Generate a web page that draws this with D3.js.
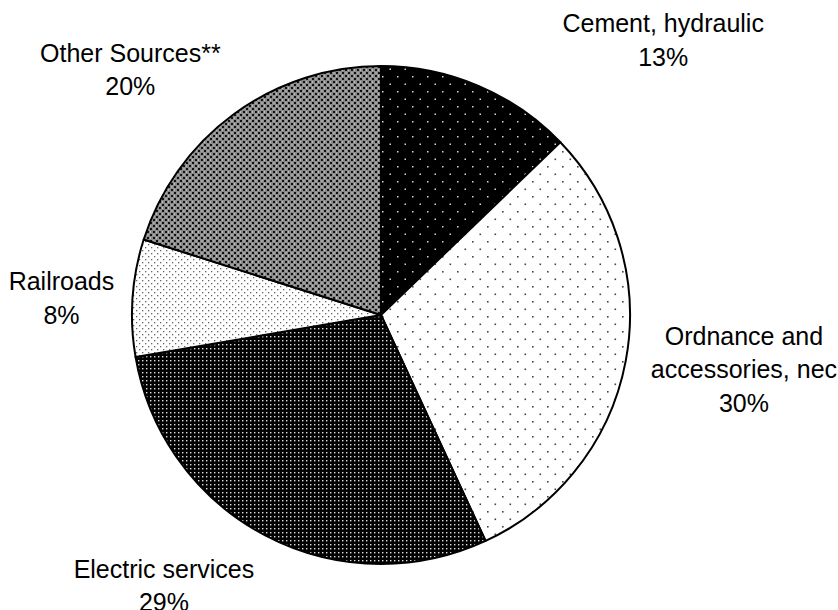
<html>
<head>
<script src="https://d3js.org/d3.v7.min.js"></script>
<style>
  body { margin: 0; background: #fff; }
  text { font-family: "Liberation Sans", Arial, sans-serif; }
</style>
</head>
<body>
<svg id="chart" width="838" height="610"></svg>
<script>
// data (share of total, clockwise from 12 o'clock)
const categories = ["Cement, hydraulic", "Ordnance and accessories, nec", "Electric services", "Railroads", "Other Sources**"];
const values = [12.8, 30.3, 29.2, 7.6, 20.1];
const pctLabels = ["13%", "30%", "29%", "8%", "20%"];
// how each category name is broken into lines in the chart
const nameLines = [["Cement, hydraulic"], ["Ordnance and", "accessories, nec"], ["Electric services"], ["Railroads"], ["Other Sources**"]];

const svg = d3.select("#chart");
const cx = 381, cy = 315, radius = 249;

// fill patterns
const defs = svg.append("defs");

function dotPattern(id, size, bg, dot, pts, r) {
  const p = defs.append("pattern").attr("id", id).attr("patternUnits", "userSpaceOnUse")
    .attr("width", size).attr("height", size);
  p.append("rect").attr("width", size).attr("height", size).attr("fill", bg);
  pts.forEach(q => p.append("rect").attr("x", q[0]).attr("y", q[1]).attr("width", r).attr("height", r).attr("fill", dot));
}
dotPattern("pCement", 15, "#000", "#d8d8d8", [[1, 1], [8.5, 8.5]], 1.5);
dotPattern("pOrd", 15, "#fff", "#444", [[1, 1], [8.5, 8.5]], 1.6);
dotPattern("pElec", 4, "#000", "#e0e0e0", [[1, 1]], 1.4);
dotPattern("pRail", 6, "#fff", "#666", [[1, 1], [4, 4]], 1.3);

// gray crosshatch for other sources
const po = defs.append("pattern").attr("id", "pOther").attr("patternUnits", "userSpaceOnUse")
  .attr("width", 6).attr("height", 6);
po.append("rect").attr("width", 6).attr("height", 6).attr("fill", "#8a8a8a");
po.append("rect").attr("x", 0).attr("y", 0).attr("width", 2).attr("height", 2).attr("fill", "#111");
po.append("rect").attr("x", 3).attr("y", 3).attr("width", 2).attr("height", 2).attr("fill", "#111");
po.append("rect").attr("x", 3).attr("y", 0.5).attr("width", 1).attr("height", 1).attr("fill", "#eee");
po.append("rect").attr("x", 0.5).attr("y", 3.5).attr("width", 1).attr("height", 1).attr("fill", "#eee");

const fills = ["url(#pCement)", "url(#pOrd)", "url(#pElec)", "url(#pRail)", "url(#pOther)"];

const pie = d3.pie().sort(null).value(d => d)(values);
const arc = d3.arc().innerRadius(0).outerRadius(radius);

const g = svg.append("g").attr("transform", `translate(${cx},${cy})`);
g.selectAll("path.slice").data(pie).join("path")
  .attr("class", "slice")
  .attr("d", arc)
  .attr("fill", (d, i) => fills[i])
  .attr("stroke", "#000")
  .attr("stroke-width", 2)
  .attr("stroke-linejoin", "round");

// labels: pushed out along each slice's middle angle, nudged like the original
const labelRadius = [394, 367, 347, 320, 351];
const labelTurn = [22.7, -2.1, 11, -0.9, -9.4]; // degrees added to mid angle
const lineH = 33.5;

pie.forEach((d, i) => {
  const a = (d.startAngle + d.endAngle) / 2 + labelTurn[i] * Math.PI / 180;
  const lx = cx + labelRadius[i] * Math.sin(a);
  const ly = cy - labelRadius[i] * Math.cos(a);
  const lines = nameLines[i].concat([pctLabels[i]]);
  const top = ly - (lines.length - 1) * lineH / 2;
  const t = svg.append("text").attr("text-anchor", "middle").attr("font-size", 25).attr("fill", "#000");
  lines.forEach((s, k) => {
    t.append("tspan").attr("x", lx).attr("y", top + k * lineH + 9).text(s);
  });
});
</script>
</body>
</html>
